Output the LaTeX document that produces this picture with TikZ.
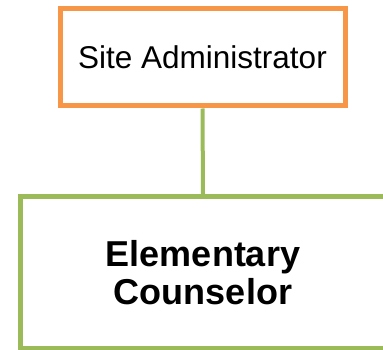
\documentclass[tikz,border=0pt]{standalone}
\usepackage{fontspec}
\setmainfont{Liberation Sans}
\definecolor{boxorange}{HTML}{F79646}
\definecolor{boxgreen}{HTML}{9BBB59}
\begin{document}
\begin{tikzpicture}[x=1pt,y=-1pt,
  topbox/.style={draw=boxorange, line width=5pt, fill=white, rectangle, minimum width=285pt, minimum height=97pt, inner sep=0pt, align=center, font=\fontsize{31.5}{36}\selectfont},
  lowbox/.style={draw=boxgreen, line width=5pt, fill=white, rectangle, minimum width=365pt, minimum height=151.5pt, inner sep=0pt, align=center, font=\fontsize{36}{38}\selectfont\bfseries},
  link/.style={draw=boxgreen, line width=4pt}]
\useasboundingbox (0,0) rectangle (383,350);
\clip (0,0) rectangle (383,350);
\node[topbox] (admin) at (202.5,57.5) {Site Administrator};
\node[lowbox] (couns) at (203,272.25) {Elementary\\Counselor};
\draw[link] (admin.south) -- (couns.north);
\end{tikzpicture}
\end{document}
